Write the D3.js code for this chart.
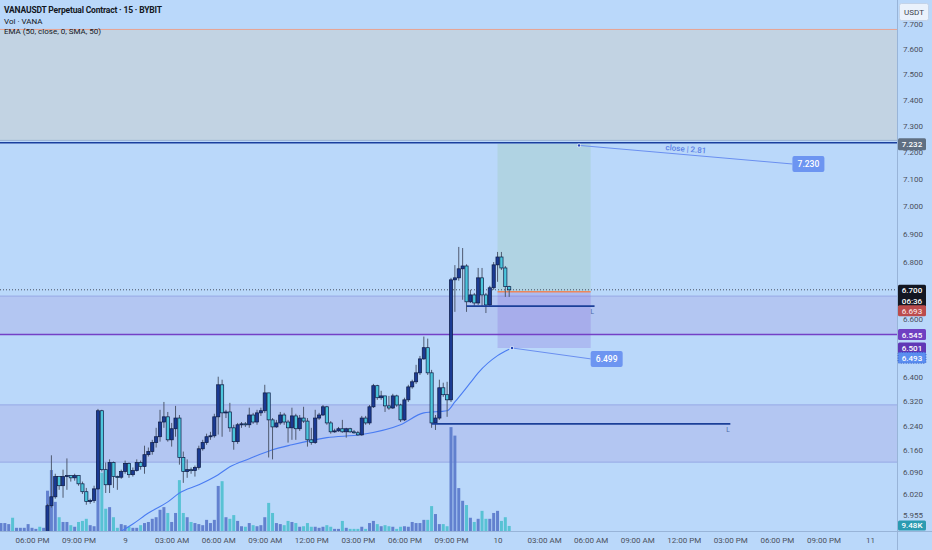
<!DOCTYPE html>
<html><head><meta charset="utf-8">
<script src="https://cdn.jsdelivr.net/npm/d3@7"></script>
<style>
html,body{margin:0;padding:0;background:#bad8fa;overflow:hidden;}
svg{display:block;font-family:Roboto,"Liberation Sans",sans-serif;}
</style></head><body>
<svg id="c" width="932" height="550"></svg>
<script>
// ---------------- DATA ----------------
const barStartUTC = Date.UTC(2025,0,8,16,0); // first 15m bar
const opens = [
5.85,5.86,5.87,5.872,5.85,5.86,5.865,5.868,5.875,5.878,
5.88,5.872,5.88,5.984,6.012,6.076,6.047,6.076,6.079,6.072,
6.079,6.053,6.028,5.997,6.000,6.037,6.289,6.098,6.050,6.121,
6.076,6.074,6.092,6.118,6.082,6.095,6.121,6.108,6.146,6.156,
6.185,6.204,6.252,6.269,6.194,6.230,6.265,6.137,6.092,6.098,
6.095,6.105,6.165,6.185,6.204,6.207,6.269,6.375,6.282,6.285,
6.233,6.188,6.243,6.246,6.243,6.275,6.252,6.282,6.289,6.348,
6.259,6.236,6.249,6.275,6.252,6.233,6.272,6.230,6.265,6.255,
6.194,6.185,6.265,6.275,6.302,6.249,6.220,6.223,6.230,6.220,
6.230,6.220,6.217,6.210,6.265,6.249,6.302,6.372,6.332,6.338,
6.305,6.298,6.338,6.308,6.259,6.325,6.368,6.385,6.415,6.462,
6.500,6.415,6.249,6.265,6.365,6.342,6.325,6.735,6.742,6.774,
6.784,6.658,6.682,6.654,6.742,6.682,6.647,6.707,6.788,6.816,
6.777,6.711];
const highs = [
5.87,5.875,5.88,5.875,5.865,5.87,5.872,5.88,5.882,5.885,
5.884,5.885,5.990,6.144,6.085,6.069,6.098,6.134,6.079,6.085,
6.079,6.060,6.040,6.006,6.047,6.295,6.292,6.121,6.131,6.124,
6.079,6.098,6.127,6.121,6.105,6.131,6.127,6.175,6.169,6.194,
6.233,6.292,6.318,6.285,6.249,6.305,6.275,6.156,6.131,6.105,
6.111,6.175,6.194,6.214,6.220,6.279,6.402,6.392,6.292,6.315,
6.243,6.249,6.252,6.252,6.299,6.282,6.292,6.299,6.375,6.348,
6.265,6.259,6.285,6.282,6.259,6.299,6.279,6.275,6.302,6.265,
6.233,6.292,6.282,6.308,6.305,6.255,6.230,6.236,6.259,6.233,
6.233,6.226,6.223,6.272,6.272,6.308,6.378,6.375,6.355,6.338,
6.338,6.345,6.342,6.312,6.332,6.375,6.392,6.442,6.472,6.538,
6.531,6.425,6.275,6.392,6.382,6.385,6.742,6.787,6.852,6.848,
6.790,6.700,6.689,6.777,6.777,6.689,6.714,6.798,6.834,6.834,
6.784,6.714];
const lows = [
5.84,5.85,5.86,5.84,5.845,5.855,5.86,5.86,5.87,5.872,
5.868,5.87,5.875,5.978,6.006,6.034,6.009,6.034,6.060,6.063,
6.047,6.021,5.987,5.990,5.993,6.034,6.092,6.024,6.024,6.040,
6.034,6.069,6.085,6.072,6.076,6.092,6.098,6.085,6.140,6.146,
6.169,6.188,6.233,6.188,6.172,6.204,6.114,6.056,6.072,6.085,
6.076,6.098,6.159,6.178,6.194,6.201,6.211,6.204,6.265,6.220,
6.162,6.181,6.233,6.236,6.233,6.246,6.243,6.272,6.282,6.137,
6.131,6.233,6.243,6.243,6.185,6.194,6.194,6.223,6.249,6.172,
6.178,6.181,6.259,6.272,6.243,6.214,6.217,6.220,6.217,6.201,
6.217,6.214,6.207,6.207,6.243,6.243,6.298,6.325,6.325,6.285,
6.292,6.295,6.302,6.252,6.255,6.318,6.362,6.378,6.408,6.459,
6.408,6.233,6.226,6.259,6.335,6.269,6.318,6.623,6.732,6.665,
6.623,6.654,6.644,6.647,6.640,6.619,6.640,6.700,6.728,6.770,
6.675,6.675];
const closes = [
5.86,5.87,5.872,5.85,5.86,5.865,5.868,5.875,5.878,5.88,
5.872,5.88,5.984,6.012,6.076,6.047,6.076,6.079,6.072,6.079,
6.053,6.028,5.997,6.000,6.037,6.289,6.098,6.050,6.121,6.076,
6.074,6.092,6.118,6.082,6.095,6.121,6.108,6.146,6.156,6.185,
6.204,6.252,6.269,6.194,6.230,6.265,6.137,6.092,6.098,6.095,
6.105,6.165,6.185,6.204,6.207,6.269,6.375,6.282,6.285,6.233,
6.188,6.243,6.246,6.243,6.275,6.252,6.282,6.289,6.348,6.259,
6.236,6.249,6.275,6.252,6.233,6.272,6.230,6.265,6.255,6.194,
6.185,6.265,6.275,6.302,6.249,6.220,6.223,6.230,6.220,6.230,
6.220,6.217,6.210,6.265,6.249,6.302,6.372,6.332,6.338,6.305,
6.298,6.338,6.308,6.259,6.325,6.368,6.385,6.415,6.462,6.500,
6.415,6.249,6.265,6.365,6.342,6.325,6.735,6.742,6.774,6.784,
6.658,6.682,6.654,6.742,6.682,6.647,6.707,6.788,6.816,6.777,
6.711,6.700];
const volumesK = [
15,15,13,25,6,6,6,13,6,4,
8,6,76,115,55,26,17,17,11,8,
17,19,23,11,9,132,110,42,45,26,
6,13,11,8,6,6,11,15,17,23,
26,40,45,34,17,34,96,34,26,17,
15,13,11,21,15,21,85,94,26,23,
30,19,9,8,15,11,9,11,26,53,
34,15,13,11,19,17,15,8,9,15,
8,8,6,8,11,8,4,4,19,6,
4,4,4,8,4,15,19,13,9,11,
9,8,4,8,9,8,17,15,15,21,
21,47,32,13,13,9,196,180,81,57,
49,25,17,23,38,23,23,34,38,19,
26,9.48];
// EMA(50) at sample bars
const emaBars = [29,34,38,43,46,51,56,59,64,70,75,84,93,103,109,115,117,121,123,128,131];
const emaVals = [5.890,5.927,5.961,5.996,6.024,6.050,6.082,6.107,6.133,6.162,6.178,6.201,6.211,6.243,6.282,6.289,6.318,6.382,6.415,6.473,6.495];

const priceTicks = [7.7,7.6,7.5,7.4,7.3,7.2,7.1,7.0,6.9,6.8,6.6,6.4,6.32,6.24,6.16,6.09,6.02,5.955];
const timeTickLabels = ["06:00 PM","09:00 PM","9","03:00 AM","06:00 AM","09:00 AM","12:00 PM","03:00 PM","06:00 PM","09:00 PM","10","03:00 AM","06:00 AM","09:00 AM","12:00 PM","03:00 PM","06:00 PM","09:00 PM","11"];

// drawings
const zones = [ {top:7.678, bottom:7.245, kind:"grey"}, {top:6.678, bottom:6.545, kind:"purple"}, {top:6.308, bottom:6.122, kind:"purple"} ];
const lastPrice = 6.700, entryPrice = 6.693, targetPrice = 7.232, stopPrice = 6.499;
const levelTargetLine = 7.236, levelPurple = 6.545;
const rayLevels = [ {price:6.643, from:[9,22,0], to:[10,6,15]}, {price:6.246, from:[9,19,45], to:[10,15,0]} ];
const positionFrom = [10,0,0], positionTo = [10,6,0];
const callouts = [
  {at:[10,5,15], price:7.226, labAt:[10,19,0], labPrice:7.156, text:"7.230", note:"close | 2.81"},
  {at:[10,0,56], price:6.499, labAt:[10,6,0], labPrice:6.462, text:"6.499", note:""}
];

// ---------------- CHART ----------------
const svg = d3.select('#c');
const PR = 897, PB = 531;
const D = (d,h,m)=> new Date(Date.UTC(2025,0,d,h,m||0));
const x = d3.scaleTime().domain([D(8,18,0), D(11,0,0)]).range([32,870]);
const y = d3.scaleLog().domain([7.7,5.955]).range([24,515]);
const yv = d3.scaleLinear().domain([0,200]).range([PB,425]);
const barTime = i => new Date(barStartUTC + i*15*60000);
const bars = closes.map((c,i)=>({t:barTime(i), o:opens[i], h:highs[i], l:lows[i], c:c, v:volumesK[i]}));

svg.append('rect').attr('width',932).attr('height',550).attr('fill','#bad8fa');
const defs = svg.append('defs');
defs.append('clipPath').attr('id','plot').append('rect').attr('x',0).attr('y',0).attr('width',PR).attr('height',PB);
const plot = svg.append('g').attr('clip-path','url(#plot)');

// zones
zones.forEach(z=>{
  const y0=y(z.top), y1=y(z.bottom);
  if(z.kind==="grey"){
    plot.append('rect').attr('x',0).attr('y',y0).attr('width',PR).attr('height',y1-y0).attr('fill','#c2d3e3');
    plot.append('line').attr('x1',0).attr('x2',PR).attr('y1',y0).attr('y2',y0).attr('stroke','#e9a491').attr('stroke-width',1);
    plot.append('line').attr('x1',0).attr('x2',PR).attr('y1',y1).attr('y2',y1).attr('stroke','#9bb2d2').attr('stroke-width',1);
  } else {
    plot.append('rect').attr('x',0).attr('y',y0).attr('width',PR).attr('height',y1-y0).attr('fill','#b3c6f2');
    plot.append('line').attr('x1',0).attr('x2',PR).attr('y1',y0).attr('y2',y0).attr('stroke','#9dafe8').attr('stroke-width',1.2);
    plot.append('line').attr('x1',0).attr('x2',PR).attr('y1',y1).attr('y2',y1).attr('stroke','#9dafe8').attr('stroke-width',1.2);
  }
});

// position box
const px0 = x(D(...positionFrom)), px1 = x(D(...positionTo));
plot.append('rect').attr('x',px0).attr('y',y(targetPrice)).attr('width',px1-px0).attr('height',y(entryPrice)-y(targetPrice)).attr('fill','rgba(161,206,195,0.42)');
plot.append('rect').attr('x',px0).attr('y',y(entryPrice)).attr('width',px1-px0).attr('height',y(stopPrice)-y(entryPrice)).attr('fill','rgba(130,100,215,0.25)');

// volume
plot.append('g').selectAll('rect').data(bars).join('rect')
  .attr('x',d=>x(d.t)-1.5).attr('width',3)
  .attr('y',d=>yv(d.v)).attr('height',d=>PB-yv(d.v))
  .attr('fill',d=>d.c>=d.o?'#5a7acb':'#4fc0d0').attr('opacity',0.92);

// horizontal levels
plot.append('line').attr('x1',0).attr('x2',PR).attr('y1',y(levelTargetLine)).attr('y2',y(levelTargetLine)).attr('stroke','#1a3f9e').attr('stroke-width',1.6);
plot.append('line').attr('x1',0).attr('x2',PR).attr('y1',y(levelPurple)).attr('y2',y(levelPurple)).attr('stroke','#7440c6').attr('stroke-width',1.6);
plot.append('line').attr('x1',0).attr('x2',PR).attr('y1',y(lastPrice)).attr('y2',y(lastPrice)).attr('stroke','#3c4250').attr('stroke-width',0.9).attr('stroke-dasharray','1,2');
plot.append('line').attr('x1',px0).attr('x2',px1).attr('y1',y(entryPrice)).attr('y2',y(entryPrice)).attr('stroke','#ee875c').attr('stroke-width',1.4);

// EMA
const emaLine = d3.line().x(d=>x(barTime(d[0]))).y(d=>y(d[1])).curve(d3.curveMonotoneX);
plot.append('path').datum(emaBars.map((b,k)=>[b,emaVals[k]])).attr('d',emaLine).attr('fill','none').attr('stroke','#4a7cf2').attr('stroke-width',1.1);

// candles
const cg = plot.append('g');
cg.selectAll('line').data(bars).join('line')
  .attr('x1',d=>x(d.t)).attr('x2',d=>x(d.t)).attr('y1',d=>y(d.h)).attr('y2',d=>y(d.l))
  .attr('stroke','#4f5a70').attr('stroke-width',1);
cg.selectAll('rect').data(bars).join('rect')
  .attr('x',d=>x(d.t)-1.6).attr('width',3.2)
  .attr('y',d=>y(Math.max(d.o,d.c))).attr('height',d=>Math.max(1,Math.abs(y(d.o)-y(d.c))))
  .attr('fill',d=>d.c>=d.o?'#1a3a93':'#4cc6dc').attr('stroke','#0c1a44').attr('stroke-width',0.7);

// rays
rayLevels.forEach(r=>{
  const a=x(D(...r.from)), b=x(D(...r.to));
  plot.append('line').attr('x1',a).attr('x2',b).attr('y1',y(r.price)).attr('y2',y(r.price)).attr('stroke','#1b3f98').attr('stroke-width',1.6);
  plot.append('text').attr('x',b-4).attr('y',y(r.price)+8).text('L').attr('font-size',6.5).attr('fill','#4c6aa8');
});

// callouts
callouts.forEach(c=>{
  const ax=x(D(...c.at)), ay=y(c.price), lx=x(D(...c.labAt)), ly=y(c.labPrice);
  plot.append('line').attr('x1',ax).attr('y1',ay).attr('x2',lx).attr('y2',ly).attr('stroke','#6a8ff0').attr('stroke-width',1);
  plot.append('circle').attr('cx',ax).attr('cy',ay).attr('r',2).attr('fill','#dfe9fd');
  plot.append('circle').attr('cx',ax).attr('cy',ay).attr('r',1.2).attr('fill','#2447b8');
  plot.append('rect').attr('x',lx).attr('y',ly-8).attr('width',32).attr('height',16).attr('rx',2).attr('fill','#6d95f1');
  plot.append('text').attr('x',lx+16).attr('y',ly+3).attr('text-anchor','middle').attr('font-size',8.5).attr('font-weight',500).attr('fill','#ffffff').text(c.text);
  if(c.note){
    const mx=(ax+lx)/2, my=(ay+ly)/2, ang=Math.atan2(ly-ay,lx-ax)*180/Math.PI;
    plot.append('text').attr('transform',`translate(${mx},${my-3}) rotate(${ang})`).attr('text-anchor','middle')
      .attr('font-size',8).attr('font-weight',500).attr('fill','#5a80e6').text(c.note);
  }
});

// separators
svg.append('line').attr('x1',PR+0.5).attr('x2',PR+0.5).attr('y1',0).attr('y2',550).attr('stroke','#98b4d8');
svg.append('line').attr('x1',0).attr('x2',932).attr('y1',PB+0.5).attr('y2',PB+0.5).attr('stroke','#98b4d8');

// price axis
const ya = svg.append('g').attr('transform',`translate(${PR+3},0)`)
  .call(d3.axisRight(y).tickValues(priceTicks).tickFormat(d3.format('.3f')).tickSize(0).tickPadding(3));
ya.select('.domain').remove();
ya.selectAll('text').attr('font-size',8).attr('fill','#4b505c').attr('font-family','Roboto,sans-serif');

// time axis
const tickDates = timeTickLabels.map((_,k)=>new Date(Date.UTC(2025,0,8,18+3*k)));
const xa = svg.append('g').attr('transform',`translate(0,${PB})`)
  .call(d3.axisBottom(x).tickValues(tickDates).tickFormat((d,k)=>timeTickLabels[k]).tickSize(0).tickPadding(6));
xa.select('.domain').remove();
xa.selectAll('text').attr('font-size',8).attr('fill','#4b505c').attr('font-family','Roboto,sans-serif');

// axis labels
function axLabel(cy,h,fill,lines,opt){
  opt=opt||{};
  const g=svg.append('g');
  g.append('rect').attr('x',PR+1).attr('y',cy-h/2).attr('width',28).attr('height',h).attr('rx',1.5).attr('fill',fill)
    .attr('stroke',opt.stroke||'none').attr('stroke-dasharray',opt.dash||null).attr('stroke-width',0.8);
  lines.forEach((t,k)=>{
    g.append('text').attr('x',PR+15).attr('y',cy-h/2+ (h/lines.length)*(k+0.5)+3).attr('text-anchor','middle')
      .attr('font-size',8).attr('font-weight',500).attr('fill',opt.color||'#fff').text(t);
  });
}
axLabel(y(targetPrice)+0.5,12,'#5f6f82',['7.232']);
axLabel(y(lastPrice)+6,22,'#131722',['6.700','06:36']);
axLabel(y(entryPrice)+19,11,'#bb4c4c',['6.693'],{color:'#f6dede'});
axLabel(y(levelPurple),11,'#7040c2',['6.545']);
axLabel(y(6.501)+0.5,11,'#6038b6',['6.501']);
axLabel(y(6.493)+8,11,'#5b8ef0',['6.493'],{stroke:'#2a50c0',dash:'1,1.5'});
axLabel(yv(volumesK[volumesK.length-1])-0.5,10,'#2b9bb1',['9.48K']);
// USDT unit box
svg.append('rect').attr('x',899.5).attr('y',3.5).attr('width',29).attr('height',17).attr('rx',2).attr('fill','#eaf2fc').attr('stroke','#c3d3e8');
svg.append('text').attr('x',914).attr('y',15).attr('text-anchor','middle').attr('font-size',8).attr('fill','#3a3f4b').text('USDT');

// header
const hd = svg.append('g').attr('fill','#131722');
hd.append('text').attr('x',4).attr('y',13).attr('font-size',8.5).attr('font-weight',700)
  .attr('textLength',158).attr('lengthAdjust','spacing').text('VANAUSDT Perpetual Contract · 15 · BYBIT');
hd.append('text').attr('x',4).attr('y',23.5).attr('font-size',8).text('Vol · VANA');
hd.append('text').attr('x',4).attr('y',34).attr('font-size',8).text('EMA (50, close, 0, SMA, 50)');
</script>
</body></html>
